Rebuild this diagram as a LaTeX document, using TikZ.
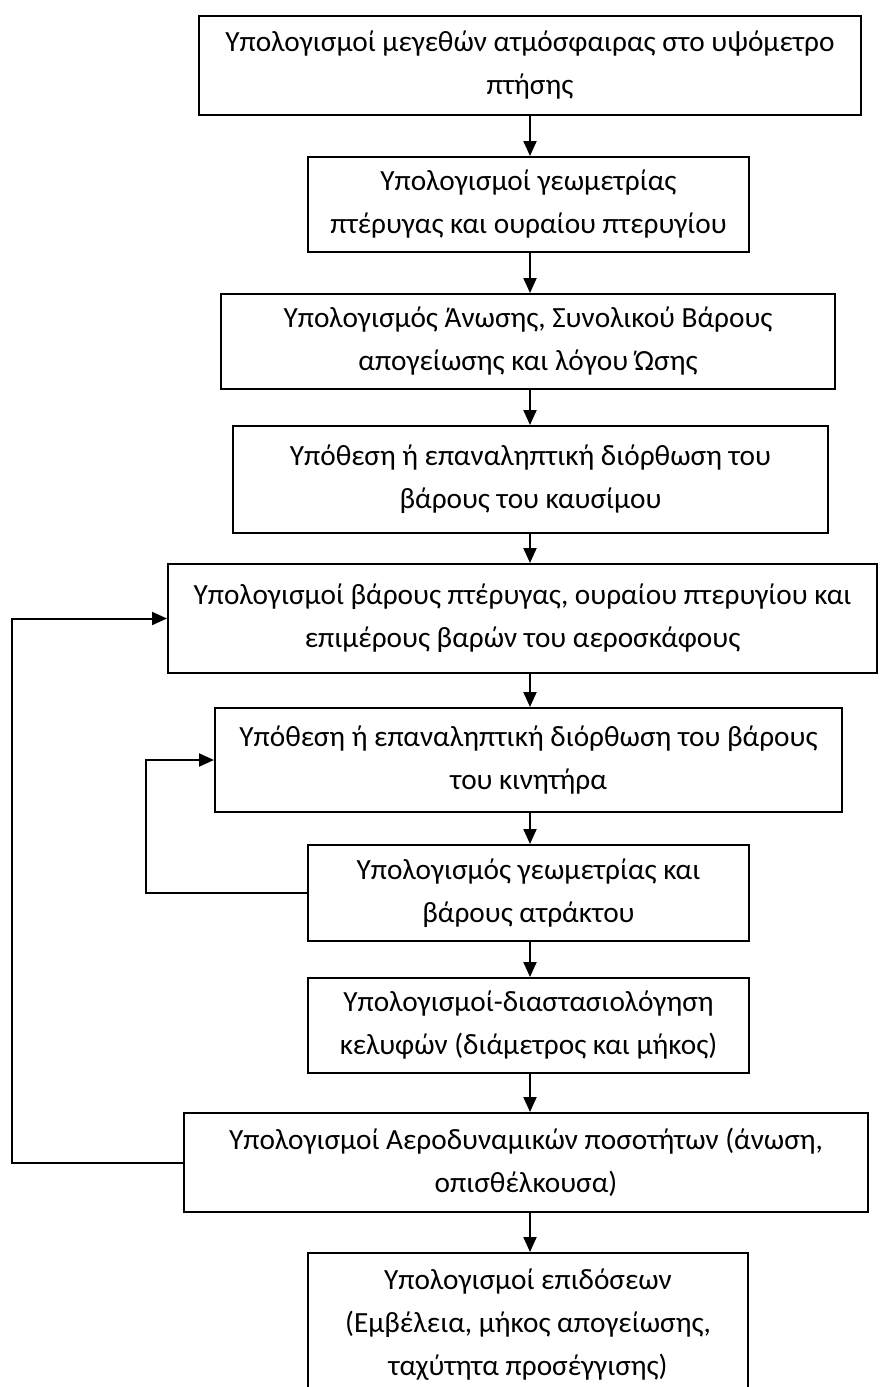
\documentclass[tikz,border=0pt]{standalone}
\usepackage{fontspec}
\setmainfont{Carlito}
\usetikzlibrary{arrows.meta}
\begin{document}
\begin{tikzpicture}[x=1pt,y=-1pt,
  stepbox/.style={draw,line width=2pt,align=center,inner sep=0pt,
    font=\fontsize{29.3}{43}\selectfont},
  flow/.style={line width=2pt,-{Triangle[length=15pt,width=13pt]}}]
\useasboundingbox (0,0) rectangle (879,1387);
\clip (0,0) rectangle (879,1387);
\fill[white] (0,0) rectangle (879,1387);
\coordinate (spine) at (530,0);
\node[stepbox,minimum width=662pt,minimum height=99pt] (b1) at (530,65.5)
  {Υπολογισμοί μεγεθών ατμόσφαιρας στο υψόμετρο\\πτήσης};
\node[stepbox,minimum width=441pt,minimum height=95pt] (b2) at (528.5,204.5)
  {Υπολογισμοί γεωμετρίας\\πτέρυγας και ουραίου πτερυγίου};
\node[stepbox,minimum width=614pt,minimum height=95pt] (b3) at (528,341.5)
  {Υπολογισμός Άνωσης, Συνολικού Βάρους\\απογείωσης και λόγου Ώσης};
\node[stepbox,minimum width=595pt,minimum height=107pt] (b4) at (530.5,479.5)
  {Υπόθεση ή επαναληπτική διόρθωση του\\βάρους του καυσίμου};
\node[stepbox,minimum width=709pt,minimum height=109pt] (b5) at (522.5,618.5)
  {Υπολογισμοί βάρους πτέρυγας, ουραίου πτερυγίου και\\επιμέρους βαρών του αεροσκάφους};
\node[stepbox,minimum width=627pt,minimum height=104pt] (b6) at (528.5,760)
  {Υπόθεση ή επαναληπτική διόρθωση του βάρους\\του κινητήρα};
\node[stepbox,minimum width=441pt,minimum height=96pt] (b7) at (528.5,893)
  {Υπολογισμός γεωμετρίας και\\βάρους ατράκτου};
\node[stepbox,minimum width=441pt,minimum height=95pt] (b8) at (528.5,1025.5)
  {Υπολογισμοί-διαστασιολόγηση\\κελυφών (διάμετρος και μήκος)};
\node[stepbox,minimum width=684pt,minimum height=99pt] (b9) at (526,1162.5)
  {Υπολογισμοί Αεροδυναμικών ποσοτήτων (άνωση,\\οπισθέλκουσα)};
\node[stepbox,minimum width=440pt,minimum height=144pt] (b10) at (528,1325)
  {Υπολογισμοί επιδόσεων\\(Εμβέλεια, μήκος απογείωσης,\\ταχύτητα προσέγγισης)};
\foreach \a/\b in {b1/b2,b2/b3,b3/b4,b4/b5,b5/b6,b6/b7,b7/b8,b8/b9,b9/b10}
  \draw[flow] (\a.south -| spine) -- (\b.north -| spine);
\coordinate (outer) at (12,0);
\coordinate (inner) at (146,0);
\draw[flow] (b9.west) -- (b9.west -| outer) -- (b5.west -| outer) -- (b5.west);
\draw[flow] (b7.west) -- (b7.west -| inner) -- (b6.west -| inner) -- (b6.west);
\end{tikzpicture}
\end{document}
